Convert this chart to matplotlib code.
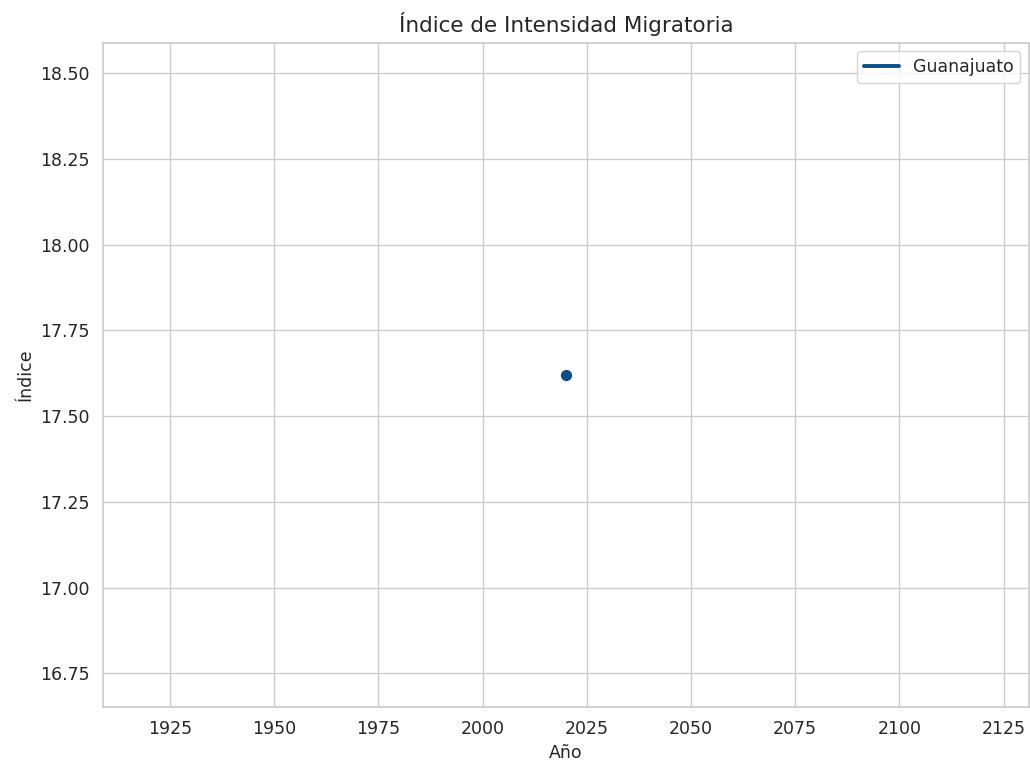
import matplotlib
matplotlib.use("Agg")
import matplotlib.pyplot as plt
import seaborn as sns

# Datos
anios = [2020]
indice = [17.62]
entidad = "Guanajuato"

sns.set_theme(style="whitegrid")
plt.rcParams['font.family'] = ['DejaVu Sans']

color = '#0b4f8a'

fig, ax = plt.subplots(figsize=(10.3, 7.63), dpi=100)
ax.plot(anios, indice, color=color, linewidth=2.8, label=entidad)
ax.scatter(anios, indice, color=color, s=50, zorder=3)

ax.set_title('Índice de Intensidad Migratoria', fontsize=15.5, pad=8)
ax.set_xlabel('Año', fontsize=12.5)
ax.set_ylabel('Índice', fontsize=12.5)
ax.tick_params(axis='both', labelsize=12.5)
ax.legend(loc='upper right', fontsize=12.5)

fig.subplots_adjust(left=0.1, right=0.999, top=0.944, bottom=0.073)
plt.savefig('out.png', dpi=100)
plt.close()
